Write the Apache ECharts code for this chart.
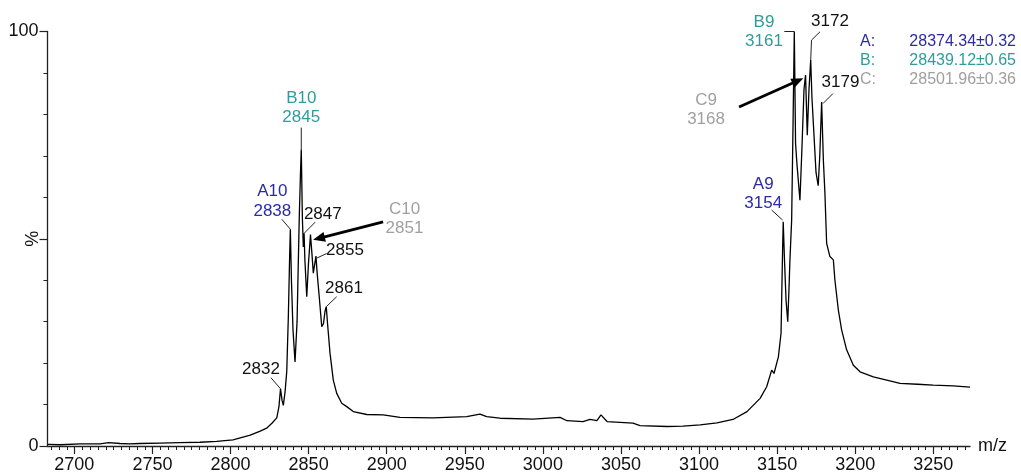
<!DOCTYPE html>
<html><head><meta charset="utf-8">
<script src="https://cdn.jsdelivr.net/npm/echarts@6/dist/echarts.min.js"></script>
<style>html,body{margin:0;padding:0;background:#fff}#c{width:1021px;height:474px}</style>
</head><body><div id="c"></div>
<script>
// ---- data ----
const mz = [2683, 2691, 2703.6, 2716.4, 2722, 2729.2, 2735, 2742, 2754.8, 2767.6, 2780.4, 2791.1, 2801.6, 2812.6, 2819, 2823.1, 2826.5, 2829.6, 2831, 2832, 2833, 2833.8, 2834.9, 2836, 2837, 2837.8, 2838.3, 2839, 2840, 2841.3, 2842.6, 2844, 2844.8, 2845.3, 2846, 2846.6, 2847.1, 2847.6, 2848.8, 2849.9, 2851.2, 2852.2, 2853, 2854.7, 2855.4, 2856.8, 2858.4, 2859.5, 2860.5, 2861.3, 2862.1, 2863.7, 2865.8, 2868, 2871.2, 2874.4, 2878.6, 2887.2, 2897.8, 2908.5, 2929.6, 2951.2, 2959.7, 2964, 2972.5, 2993.7, 3011, 3015.4, 3025.7, 3030.2, 3034.6, 3037.2, 3041.1, 3057.7, 3062.2, 3079.5, 3089.7, 3100.7, 3111.5, 3121.7, 3130.7, 3139.1, 3143.3, 3146.5, 3148, 3150.8, 3152.5, 3153.5, 3153.9, 3154.7, 3155.7, 3156.8, 3157.6, 3158.2, 3159.3, 3160.2, 3161, 3161.8, 3162.7, 3164, 3164.6, 3165.9, 3167.2, 3168.2, 3169.3, 3170.4, 3171.5, 3172.3, 3173.6, 3174.9, 3176.3, 3177.3, 3178.5, 3179.6, 3180.6, 3181.7, 3183.8, 3186, 3187, 3189.2, 3191.3, 3194.5, 3198.8, 3203.1, 3211.6, 3220.2, 3228.7, 3240, 3250, 3262.8, 3273.5];
const intensity = [0.4, 0.3, 0.5, 0.5, 0.8, 0.6, 0.5, 0.6, 0.7, 0.8, 0.9, 1.1, 1.5, 2.6, 3.6, 4.3, 5.5, 6.8, 9.5, 13.8, 11, 9.8, 13, 18, 31, 45, 52.3, 40, 28, 20.3, 30, 55, 66, 71.5, 55, 48, 51.3, 45, 36, 44, 51, 46, 41.7, 45.8, 42, 36, 28.8, 29.5, 32.5, 33.6, 29.6, 22.4, 15.9, 12.7, 10.3, 9.5, 8.3, 7.6, 7.5, 6.9, 6.8, 7.1, 7.7, 7.1, 6.7, 6.5, 6.9, 6.1, 5.9, 6.4, 6.1, 7.5, 5.9, 5.5, 4.9, 4.7, 4.8, 5.1, 5.6, 6.4, 8.3, 11.5, 14.3, 18.3, 17.5, 21.5, 27.2, 47.3, 54.1, 45, 35.2, 30, 38, 44.9, 54.5, 78, 100, 73, 68, 62, 59.3, 72, 86, 89.5, 75, 86, 93.1, 84, 75, 66, 62.8, 70, 83, 69, 61, 48.9, 45.7, 44.9, 40, 32.8, 28, 23.2, 19.5, 17.9, 16.7, 15.9, 15.1, 14.9, 14.7, 14.5, 14.2];
const xTickLabels = [2700, 2750, 2800, 2850, 2900, 2950, 3000, 3050, 3100, 3150, 3200, 3250];
const yTickLabels = [0, 50, 100];
const yAxisTitle = '%';
const xAxisTitle = 'm/z';

const peakGroup  = ['', 'A', 'B', '', 'C', '', '', 'A', 'B', 'C', '', ''];
const peakName   = ['', 'A10', 'B10', '', 'C10', '', '', 'A9', 'B9', 'C9', '', ''];
const peakMass   = ['2832', '2838', '2845', '2847', '2851', '2855', '2861', '3154', '3161', '3168', '3172', '3179'];
const peakMz     = [2832, 2838.3, 2845.3, 2847.1, 2851.2, 2854.7, 2861.3, 3153.9, 3161, 3168.2, 3171.5, 3178.5];
const peakInt    = [13.8, 52.3, 71.5, 51.3, 51, 45.8, 33.6, 54.1, 100, 89.5, 93.1, 83];

const massKeys   = ['A:', 'B:', 'C:'];
const massValues = ['28374.34±0.32', '28439.12±0.65', '28501.96±0.36'];

// ---- layout / style (not data) ----
const X_MIN = 2682.8, X_MAX = 3273.5;
const FONT = '"Liberation Sans", Arial, sans-serif';
const groupColor = { A: '#2b2ba3', B: '#2f9c9c', C: '#a0a0a0', '': '#111111' };
const peakLayout = [
  { t: [-19.5, -19], line: [[-9.5, -11], [0, 0]] },
  { t: [-18, -18], line: [[-8.6, -10], [0, 0]] },
  { t: [0, -32], line: [[0, -22], [0, 0]] },
  { t: [18.7, -19], line: [[11.2, -11.3], [0, 0]] },
  { t: [94, -5.8], arrow: [[72.6, -12.8], [2.6, 5.2]] },
  { t: [29, -6], line: [[10.7, -2.7], [0.7, 2]] },
  { t: [17.7, -18.7], line: [[10.4, -10], [0, 0]] },
  { t: [-20, -18.4], line: [[-11.6, -11.7], [-0.6, -1.7]] },
  { t: [-30.3, 10.2], line: [[-10, 0], [0, 0]] },
  { t: [-99.5, 44.3], arrow: [[-66.5, 32], [-2.2, 3.3]] },
  { t: [19.3, -38.3], line: [[9.3, -28.3], [0.8, -20], [0, 0]] },
  { t: [18.8, -20], line: [[11.3, -8.4], [1.3, 1.6]] }
];

const minorTicks = [];
for (let v = 2685; v < X_MAX; v += 5) { if (v % 50 !== 0) minorTicks.push(v); }

const chart = echarts.init(document.getElementById('c'), null, { renderer: 'canvas' });
const option = {
  animation: false,
  backgroundColor: '#fff',
  textStyle: { fontFamily: FONT },
  grid: { left: 47.5, right: 51, top: 31.5, bottom: 28, containLabel: false, outerBoundsMode: 'none' },
  xAxis: {
    type: 'value', min: X_MIN, max: X_MAX,
    axisLine: { show: true, lineStyle: { color: '#222', width: 1.3 } },
    axisTick: { show: true, inside: false, length: 8, customValues: xTickLabels, lineStyle: { color: '#222', width: 1.2 } },
    axisLabel: { customValues: xTickLabels, formatter: v => String(v), fontSize: 18, color: '#111', margin: 10, fontFamily: FONT },
    splitLine: { show: false },
    name: xAxisTitle, nameLocation: 'end', nameGap: 8,
    nameTextStyle: { fontSize: 18, color: '#111', fontFamily: FONT }
  },
  yAxis: {
    type: 'value', min: 0, max: 100, interval: 50,
    axisLine: { show: true, lineStyle: { color: '#222', width: 1.3 } },
    axisTick: { show: true, length: 8, lineStyle: { color: '#222', width: 1.2 } },
    minorTick: { show: true, splitNumber: 5, length: 4, lineStyle: { color: '#222', width: 1 } },
    axisLabel: { formatter: v => (v === yTickLabels[1] ? '' : String(v)), fontSize: 18, color: '#111', margin: 9, fontFamily: FONT },
    splitLine: { show: false }
  },
  series: [{
    type: 'line',
    data: mz.map((m, i) => [m, intensity[i]]),
    symbol: 'none', smooth: false,
    lineStyle: { color: '#000', width: 1.3 },
    z: 2
  }]
};
chart.setOption(option);

const g = [];
function txt(x, y, s, color, size, align, rot) {
  g.push({ type: 'text', z: 10, x: x, y: y, rotation: rot || 0,
    style: { text: s, x: 0, y: 0, fill: color, font: size + 'px ' + FONT, align: align || 'center', verticalAlign: 'middle' } });
}
const px = (m, v) => chart.convertToPixel({ xAxisIndex: 0, yAxisIndex: 0 }, [m, v]);

// minor ticks on the x axis, placed through the axis scale
const axisY = px(X_MIN, 0)[1];
minorTicks.forEach(v => {
  const x = Math.round(px(v, 0)[0]) + 0.5;
  g.push({ type: 'line', z: 5, shape: { x1: x, y1: axisY, x2: x, y2: axisY + 4 }, style: { stroke: '#222', lineWidth: 1 } });
});
// y-axis title, rotated, at the middle tick
const pMid = px(X_MIN, yTickLabels[1]);
txt(pMid[0] - 14, pMid[1], yAxisTitle, '#111', 18, 'center', Math.PI / 2);

peakMz.forEach((m, i) => {
  const p = px(m, peakInt[i]);
  const L = peakLayout[i];
  const col = groupColor[peakGroup[i]];
  const tx = p[0] + L.t[0], ty = p[1] + L.t[1];
  txt(tx, ty, peakMass[i], col, 17);
  if (peakName[i]) txt(tx, ty - 19.5, peakName[i], col, 17);
  if (L.line) {
    g.push({ type: 'polyline', z: 9, shape: { points: L.line.map(q => [p[0] + q[0], p[1] + q[1]]) }, style: { stroke: '#222', lineWidth: 1, fill: null } });
  }
  if (L.arrow) {
    const s = [p[0] + L.arrow[0][0], p[1] + L.arrow[0][1]];
    const e = [p[0] + L.arrow[1][0], p[1] + L.arrow[1][1]];
    const dx = e[0] - s[0], dy = e[1] - s[1], len = Math.hypot(dx, dy);
    const ux = dx / len, uy = dy / len, hl = 12, hw = 5;
    const b = [e[0] - ux * hl, e[1] - uy * hl];
    g.push({ type: 'line', z: 9, shape: { x1: s[0], y1: s[1], x2: b[0] + ux * 1, y2: b[1] + uy * 1 }, style: { stroke: '#000', lineWidth: 2.8 } });
    g.push({ type: 'polygon', z: 9, shape: { points: [e, [b[0] - uy * hw, b[1] + ux * hw], [b[0] + uy * hw, b[1] - ux * hw]] }, style: { fill: '#000' } });
  }
});
const cols = [groupColor.A, groupColor.B, groupColor.C];
massKeys.forEach((k, i) => {
  txt(860, 42 + i * 19, k, cols[i], 16, 'left');
  txt(1016, 42 + i * 19, massValues[i], cols[i], 16, 'right');
});
chart.setOption({ graphic: g });
</script>
</body></html>
